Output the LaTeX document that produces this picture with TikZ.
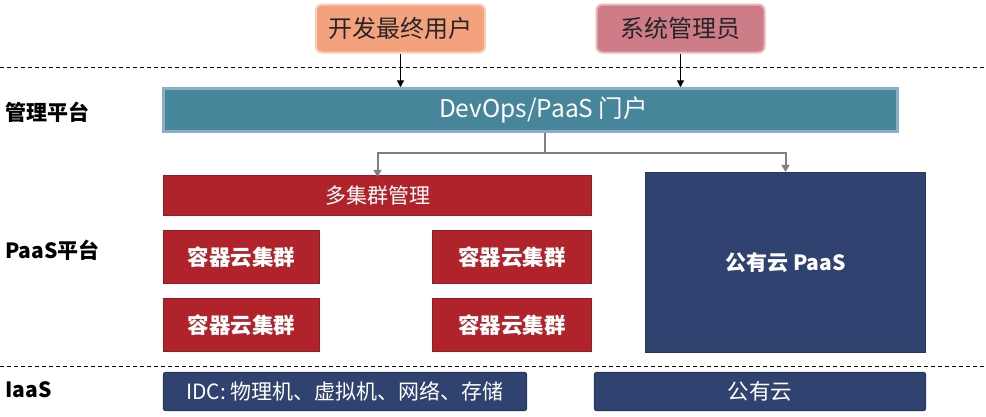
\documentclass[tikz,border=0pt]{standalone}
\usepackage{fontspec}
\setmainfont{Noto Sans CJK SC}
\usetikzlibrary{arrows.meta}
\definecolor{uorange}{HTML}{F4A27E}
\definecolor{uorangeb}{HTML}{F9CDB8}
\definecolor{urose}{HTML}{CE7C87}
\definecolor{uroseb}{HTML}{E9B6BD}
\definecolor{teal}{HTML}{46859A}
\definecolor{tealb}{HTML}{8DACC8}
\definecolor{dred}{HTML}{B0232A}
\definecolor{dredb}{HTML}{8F1D22}
\definecolor{navy}{HTML}{2F4270}
\definecolor{navyb}{HTML}{26365C}
\definecolor{conn}{HTML}{808080}
\tikzset{
  userbox/.style={rounded corners=6pt, line width=2pt, text=black!85, font=\fontsize{24}{28}\selectfont, inner sep=0pt},
  portalbox/.style={fill=teal, draw=tealb, line width=2.5pt, text=white, font=\fontsize{24.5}{29}\selectfont, inner sep=0pt},
  redbox/.style={fill=dred, draw=dredb, line width=1.2pt, text=white, inner sep=0pt},
  navybox/.style={fill=navy, draw=navyb, line width=1.2pt, rounded corners=2pt, text=white, inner sep=0pt},
  layerlabel/.style={anchor=west, font=\fontsize{21}{24}\selectfont\bfseries, inner sep=0pt},
  sepline/.style={dash pattern=on 4pt off 3pt, line width=1pt},
  blackarrow/.style={line width=1.3pt, -{Triangle[width=7pt,length=7pt]}},
  grayarrow/.style={conn, line width=2pt, -{Triangle[width=8pt,length=7pt]}},
}
\begin{document}
\begin{tikzpicture}[x=1pt,y=-1pt]
\useasboundingbox (0,0) rectangle (986,416);

% separators
\coordinate (s1a) at (0,67); \coordinate (s1b) at (986,67);
\coordinate (s2a) at (0,366); \coordinate (s2b) at (986,366);
\draw[sepline] (s1a) -- (s1b);
\draw[sepline] (s2a) -- (s2b);

% users
\node[userbox, fill=uorange, draw=uorangeb, minimum width=169pt, minimum height=48pt] (u1) at (400.5,28.5) {开发最终用户};
\node[userbox, fill=urose, draw=uroseb, minimum width=168pt, minimum height=48pt] (u2) at (680.5,28.5) {系统管理员};

% portal
\node[portalbox, minimum width=734pt, minimum height=43pt] (portal) at (530.5,110) {\hspace*{26pt}DevOps/PaaS 门户};

% PaaS layer
\node[redbox, minimum width=428pt, minimum height=40pt, font=\fontsize{21}{24}\selectfont] (multi) at (377.5,195.5) {多集群管理};
\node[redbox, minimum width=156pt, minimum height=53pt, font=\fontsize{21.5}{25}\selectfont\bfseries] (c1) at (241.5,257) {容器云集群};
\node[redbox, minimum width=156pt, minimum height=53pt, font=\fontsize{21.5}{25}\selectfont\bfseries] (c2) at (241.5,325) {容器云集群};
\node[redbox, minimum width=159pt, minimum height=53pt, font=\fontsize{21.5}{25}\selectfont\bfseries] (c3) at (512,257) {容器云集群};
\node[redbox, minimum width=159pt, minimum height=53pt, font=\fontsize{21.5}{25}\selectfont\bfseries] (c4) at (512,325) {容器云集群};
\node[navybox, rounded corners=0pt, minimum width=280pt, minimum height=180pt, font=\fontsize{21}{25}\selectfont\bfseries] (pub) at (785.5,262.5) {公有云 PaaS};

% IaaS layer
\node[navybox, minimum width=363pt, minimum height=38pt, font=\fontsize{21}{25}\selectfont] (idc) at (345,391.5) {IDC: 物理机、虚拟机、网络、存储};
\node[navybox, minimum width=331pt, minimum height=38pt, font=\fontsize{21.5}{25}\selectfont] (pubi) at (760,391.5) {公有云};

% labels
\node[layerlabel] (l1) at (5,112) {管理平台};
\node[layerlabel] (l2) at (5,250) {PaaS平台};
\node[layerlabel] (l3) at (5,390) {IaaS};

% connectors
\draw[blackarrow] (u1.south) -- (u1.south |- portal.north);
\draw[blackarrow] (u2.south) -- (u2.south |- portal.north);
\coordinate (split) at (545,153);
\draw[conn, line width=2pt] (portal.south -| split) -- (split);
\draw[grayarrow] (split) -| ([yshift=-2pt]multi.north);
\draw[grayarrow] (split) -| (pub.north);
\end{tikzpicture}
\end{document}
